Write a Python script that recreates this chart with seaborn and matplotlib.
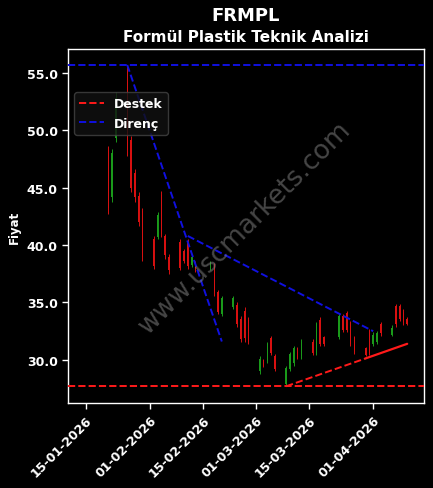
"""FRMPL technical analysis chart (candles + support/resistance)."""

import matplotlib

matplotlib.use("Agg")

import matplotlib.dates as mdates
import matplotlib.pyplot as plt
import numpy as np
import pandas as pd
import seaborn as sns

dates = [
    "2026-01-21", "2026-01-22", "2026-01-23", "2026-01-26", "2026-01-27", "2026-01-28",
    "2026-01-29", "2026-01-30", "2026-02-02", "2026-02-03", "2026-02-04", "2026-02-05",
    "2026-02-06", "2026-02-09", "2026-02-10", "2026-02-11", "2026-02-12", "2026-02-13",
    "2026-02-17", "2026-02-18", "2026-02-19", "2026-02-20", "2026-02-23", "2026-02-24",
    "2026-02-25", "2026-02-26", "2026-02-27", "2026-03-02", "2026-03-03", "2026-03-04",
    "2026-03-05", "2026-03-06", "2026-03-09", "2026-03-10", "2026-03-11", "2026-03-12",
    "2026-03-13", "2026-03-16", "2026-03-17", "2026-03-18", "2026-03-19", "2026-03-23",
    "2026-03-24", "2026-03-25", "2026-03-26", "2026-03-27", "2026-03-30", "2026-03-31",
    "2026-04-01", "2026-04-02", "2026-04-03", "2026-04-06", "2026-04-07", "2026-04-08",
    "2026-04-09", "2026-04-10",
]
opens = [
    48.3, 44.2, 49.3, 55.2, 49.2, 46.3, 44.3, 43.0, 40.5, 40.7, 44.4, 40.8,
    39.0, 40.3, 39.5, 40.2, 38.3, 38.4, 37.9, 38.2, 35.9, 34.0, 34.6, 34.8,
    33.6, 34.3, 33.5, 29.0, 30.0, 29.9, 31.9, 30.3, 27.9, 29.2, 29.7, 31.0,
    30.3, 31.6, 30.6, 33.5, 32.0, 32.0, 33.8, 34.1, 33.2, 31.9, 31.0, 32.5,
    31.4, 31.6, 33.1, 32.2, 34.7, 34.7, 34.2, 33.6,
]
highs = [
    48.6, 48.4, 53.3, 55.7, 49.5, 46.6, 44.6, 43.2, 40.8, 42.9, 44.7, 41.0,
    39.2, 40.5, 39.7, 40.5, 39.2, 38.6, 38.6, 38.4, 36.1, 35.6, 35.6, 35.0,
    33.8, 34.6, 33.7, 30.3, 30.1, 31.6, 32.1, 30.5, 29.5, 30.7, 31.2, 31.1,
    31.8, 31.8, 33.3, 33.7, 32.1, 34.0, 34.0, 34.3, 33.4, 32.1, 31.1, 32.7,
    32.4, 32.5, 33.3, 33.0, 34.9, 34.9, 34.4, 33.7,
]
lows = [
    42.7, 43.8, 49.0, 47.8, 44.6, 43.8, 41.7, 38.6, 37.9, 40.5, 40.7, 38.8,
    37.5, 37.8, 38.4, 37.9, 38.1, 37.7, 37.8, 35.6, 34.0, 33.8, 34.4, 32.9,
    31.6, 31.6, 31.4, 28.8, 29.4, 29.7, 30.4, 29.0, 27.7, 29.0, 29.5, 30.1,
    30.1, 30.4, 30.4, 31.2, 31.2, 31.8, 32.4, 32.4, 31.2, 30.5, 30.3, 30.4,
    31.2, 31.4, 32.1, 32.1, 32.9, 33.4, 33.0, 33.0,
]
closes = [
    43.2, 48.0, 52.8, 48.3, 45.0, 44.2, 42.0, 39.0, 38.2, 42.6, 41.0, 39.1,
    37.8, 38.0, 38.6, 38.2, 39.0, 37.9, 38.5, 35.9, 34.2, 35.4, 35.4, 33.1,
    31.8, 31.9, 31.6, 30.1, 29.5, 31.4, 30.6, 29.2, 29.3, 30.5, 31.0, 30.2,
    31.6, 30.6, 33.1, 31.4, 31.4, 33.8, 32.6, 32.6, 31.4, 30.7, 30.4, 30.6,
    32.2, 32.3, 32.3, 32.8, 33.1, 33.6, 33.2, 33.1,
]

support_level = 27.7
resistance_level = 55.7
# trend lines: (start date, start price, end date, end price)
resistance_steep = ("2026-01-26", 55.7, "2026-02-20", 31.6)
resistance_slow = ("2026-02-11", 40.8, "2026-04-01", 32.5)
support_trend = ("2026-03-09", 27.7, "2026-04-10", 31.4)
support_solid_from = "2026-03-30"

df = pd.DataFrame(
    {"date": pd.to_datetime(dates), "open": opens, "high": highs, "low": lows, "close": closes}
)
df["up"] = df["close"] >= df["open"]

sns.set_style("dark")
plt.rcParams["font.family"] = ["DejaVu Sans"]
plt.rcParams["font.weight"] = "bold"

fig, ax = plt.subplots(figsize=(4.33, 4.89), dpi=100)
fig.patch.set_facecolor("black")
ax.set_facecolor("black")
fig.subplots_adjust(left=0.157, right=0.979, top=0.898, bottom=0.174)

colors = np.where(df["up"], "#1a9a1a", "#d81010")
ax.vlines(df["date"], df["low"], df["high"], colors=colors, linewidth=0.7, zorder=2)
body_bottom = np.minimum(df["open"], df["close"])
body_height = np.abs(df["close"] - df["open"])
ax.bar(df["date"], body_height, bottom=body_bottom, width=0.38, color=colors, linewidth=0, zorder=3)


def trend_frame(line):
    return pd.DataFrame({"date": pd.to_datetime([line[0], line[2]]), "price": [line[1], line[3]]})


sns.lineplot(data=trend_frame(resistance_steep), x="date", y="price", ax=ax,
             color="#1010e0", linestyle="--", linewidth=1.4, zorder=4)
sns.lineplot(data=trend_frame(resistance_slow), x="date", y="price", ax=ax,
             color="#1010e0", linestyle="--", linewidth=1.4, zorder=4)

sup = trend_frame(support_trend)
d0, d1 = sup["date"]
p0, p1 = sup["price"]
split = pd.Timestamp(support_solid_from)
p_split = p0 + (p1 - p0) * (split - d0) / (d1 - d0)
sns.lineplot(x=[d0, split], y=[p0, p_split], ax=ax, color="#ff1a1a", linestyle="--", linewidth=1.4, zorder=4)
sns.lineplot(x=[split, d1], y=[p_split, p1], ax=ax, color="#ff1a1a", linewidth=1.6, zorder=4)

ax.axhline(support_level, color="#ff1a1a", linestyle="--", linewidth=1.4, label="Destek", zorder=4)
ax.axhline(resistance_level, color="#1010e0", linestyle="--", linewidth=1.4, label="Direnç", zorder=4)

ax.set_xlim(pd.Timestamp("2026-01-10 08:00"), pd.Timestamp("2026-04-14 10:00"))
ax.set_ylim(26.25, 57.1)
ax.set_yticks([30, 35, 40, 45, 50, 55])
ax.yaxis.set_major_formatter(matplotlib.ticker.FormatStrFormatter("%.1f"))
ax.set_xticks(pd.to_datetime(["2026-01-15", "2026-02-01", "2026-02-15", "2026-03-01", "2026-03-15", "2026-04-01"]))
ax.xaxis.set_major_formatter(mdates.DateFormatter("%d-%m-%Y"))
plt.setp(ax.get_xticklabels(), rotation=45, ha="right", rotation_mode="anchor")

ax.tick_params(colors="white", labelsize=9, length=4, width=1, bottom=True, left=True)
for label in ax.get_xticklabels() + ax.get_yticklabels():
    label.set_fontweight("bold")
for spine in ax.spines.values():
    spine.set_color("white")
    spine.set_linewidth(1)
ax.grid(False)

ax.set_xlabel("")
ax.set_ylabel("Fiyat", color="white", fontsize=8.5, fontweight="bold")
ax.set_title("Formül Plastik Teknik Analizi", color="white", fontsize=11, fontweight="bold", pad=6)
fig.suptitle("FRMPL", color="white", fontsize=13, fontweight="bold", x=0.568, y=0.985)

leg = ax.legend(loc="upper left", bbox_to_anchor=(0.0, 0.895), fontsize=9, facecolor="#111111",
                edgecolor="#444444", framealpha=0.8)
for text in leg.get_texts():
    text.set_color("white")
    text.set_fontweight("bold")

fig.text(0.566, 0.534, "www.uscmarkets.com", color="gray", alpha=0.55, fontsize=19,
         rotation=45, ha="center", va="center", fontweight="normal", zorder=5)

fig.savefig("out.png", dpi=100, facecolor=fig.get_facecolor())
plt.close(fig)
